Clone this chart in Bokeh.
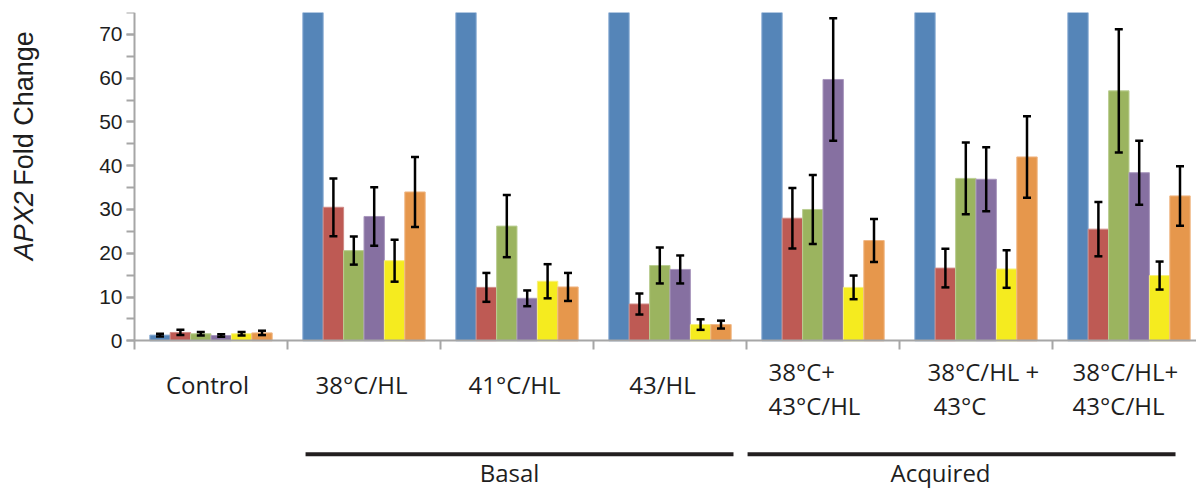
import numpy as np
from bokeh.plotting import figure
from bokeh.models import (Range1d, ColumnDataSource, Whisker, TeeHead,
                          SingleIntervalTicker, FixedTicker)
from bokeh.core.properties import value
from bokeh.embed import file_html
from bokeh.resources import INLINE

# ---------------- data ----------------
categories = ["Control", "38°C/HL", "41°C/HL", "43/HL",
              "38°C+\n43°C/HL", "38°C/HL +\n43°C", "38°C/HL+\n43°C/HL"]
groups = ["Basal", "Acquired"]
y_title_italic = "APX2"
y_title_rest = "Fold Change"

# blue series is off-scale (clipped at the top of the axis) except for Control
blue = [1.3, 150, 150, 150, 150, 150, 150]
blue_err = [0.3, None, None, None, None, None, None]
red = [1.9, 30.5, 12.2, 8.4, 28.0, 16.6, 25.5]
red_err = [0.6, 6.6, 3.3, 2.4, 6.9, 4.4, 6.2]
green = [1.6, 20.6, 26.2, 17.2, 30.0, 37.1, 57.1]
green_err = [0.4, 3.2, 7.1, 4.1, 7.9, 8.2, 14.1]
purple = [1.2, 28.4, 9.7, 16.3, 59.7, 36.9, 38.4]
purple_err = [0.3, 6.7, 1.8, 3.2, 14.0, 7.3, 7.3]
yellow = [1.6, 18.3, 13.6, 3.7, 12.2, 16.4, 14.9]
yellow_err = [0.4, 4.8, 3.9, 1.2, 2.7, 4.3, 3.2]
orange = [1.8, 34.0, 12.3, 3.7, 22.9, 42.0, 33.1]
orange_err = [0.5, 8.0, 3.2, 0.9, 4.9, 9.3, 6.8]

series = [blue, red, green, purple, yellow, orange]
errors = [blue_err, red_err, green_err, purple_err, yellow_err, orange_err]

# ---------------- style / layout ----------------
fills = ["#5585B8", "#BE5A54", "#9BB45F", "#8670A1", "#F5EB1F", "#E6974C"]
edges = ["#8FB0D6", "#CF8A86", "#BBCE92", "#A998BE", "#F8F07A", "#F0B785"]
axis_grey = "#A6A6A6"
text_col = "#1E1E1E"
label_font = value("Open Sans")

YMAX = 75
W, H = 1196, 488
X_LEFT_PX = 134          # y axis position inside the figure
PX_PER_CAT = 153.0
PX_PER_UNIT_Y = 4.3771
TOP_PX = 12
x_start = -X_LEFT_PX / PX_PER_CAT
x_end = (W - X_LEFT_PX) / PX_PER_CAT
y_start = YMAX - (H - TOP_PX) / PX_PER_UNIT_Y

p = figure(width=W, height=H, output_backend="svg", toolbar_location=None,
           x_range=Range1d(x_start, x_end), y_range=Range1d(y_start, YMAX),
           min_border_left=0, min_border_right=0, min_border_top=TOP_PX,
           min_border_bottom=0)
p.xgrid.visible = False
p.ygrid.visible = False
p.outline_line_color = None
p.background_fill_color = "white"
p.border_fill_color = "white"

n_cat = len(categories)
n_ser = len(series)
bw = 0.8 / n_ser
cat_idx = np.arange(n_cat)

wx, wu, wl = [], [], []
for j, (vals, errs) in enumerate(zip(series, errors)):
    xs = cat_idx + 0.1 + (j + 0.5) * bw
    p.vbar(x=xs, top=vals, width=bw, bottom=0, fill_color=fills[j],
           line_color=edges[j], line_width=1)
    for x, v, e in zip(xs, vals, errs):
        if e is not None and v <= YMAX:
            wx.append(x); wu.append(v + e); wl.append(v - e)

wsrc = ColumnDataSource(dict(x=wx, upper=wu, lower=wl))
p.add_layout(Whisker(source=wsrc, base="x", upper="upper", lower="lower",
                     dimension="height", line_color="black", line_width=2.5,
                     level="annotation",
                     upper_head=TeeHead(size=8, line_width=2.5, line_color="black"),
                     lower_head=TeeHead(size=8, line_width=2.5, line_color="black")))

# ---------------- axes (fixed at 0) ----------------
yax = p.yaxis[0]
yax.fixed_location = 0
yax.bounds = (0, YMAX)
yax.ticker = SingleIntervalTicker(interval=10, num_minor_ticks=2)
yax.axis_line_color = axis_grey
yax.axis_line_width = 2
yax.major_tick_line_color = axis_grey
yax.minor_tick_line_color = axis_grey
yax.major_tick_line_width = 2
yax.minor_tick_line_width = 2
yax.major_tick_out = 8
yax.major_tick_in = 0
yax.minor_tick_out = 8
yax.minor_tick_in = 0
yax.major_label_standoff = 4
yax.major_label_text_font = "Liberation Sans"
yax.major_label_text_font_size = "21px"
yax.major_label_text_color = text_col

xax = p.xaxis[0]
xax.fixed_location = 0
xax.bounds = (0, x_end)
xax.ticker = FixedTicker(ticks=list(range(n_cat)))
xax.major_label_overrides = {i: "" for i in range(n_cat + 1)}
xax.axis_line_color = axis_grey
xax.axis_line_width = 2
xax.major_tick_line_color = axis_grey
xax.major_tick_line_width = 2
xax.major_tick_out = 9
xax.major_tick_in = 0
xax.minor_tick_line_color = None

# ---------------- y-axis title (mixed italic / normal) ----------------
p.text(x=[-0.719], y=[18.4], text=[y_title_italic], angle=np.pi / 2,
       text_font=value("Liberation Sans"), text_font_style="italic",
       text_font_size="27px", text_align="left", text_baseline="middle",
       text_color=text_col)
p.text(x=[-0.719], y=[35.4], text=[y_title_rest], angle=np.pi / 2,
       text_font=value("Liberation Sans"), text_font_size="27px",
       text_align="left", text_baseline="middle", text_color=text_col)

# ---------------- category labels ----------------
single_x = {0: 0.477, 1: 1.484, 2: 2.484, 3: 3.451}
multi_left = {4: (4.144, 4.144), 5: (5.183, 5.222), 6: (6.131, 6.131)}
Y_SINGLE = -9.90
Y_LINES = [-6.93, -14.70]
sx, sy, st = [], [], []
mx, my, mt = [], [], []
for i, name in enumerate(categories):
    lines = name.split("\n")
    if len(lines) == 1:
        sx.append(single_x[i]); sy.append(Y_SINGLE); st.append(lines[0])
    else:
        for k, (ln, yy) in enumerate(zip(lines, Y_LINES)):
            mx.append(multi_left[i][k]); my.append(yy); mt.append(ln)
p.text(x=sx, y=sy, text=st, text_font=label_font, text_font_size="24px",
       text_align="center", text_baseline="alphabetic", text_color=text_col)
p.text(x=mx, y=my, text=mt, text_font=label_font, text_font_size="24px",
       text_align="left", text_baseline="alphabetic", text_color=text_col)

# ---------------- group brackets ----------------
group_x0 = [1.118, 4.007]
group_x1 = [3.915, 6.804]
group_text_x = [2.451, 5.268]
p.segment(x0=group_x0, y0=[-25.9] * 2, x1=group_x1, y1=[-25.9] * 2,
          line_width=4, line_color="#231F20")
p.text(x=group_text_x, y=[-30.0] * 2, text=groups, text_font=label_font,
       text_font_size="24px", text_align="center", text_baseline="alphabetic",
       text_color=text_col)

open("out.html", "w").write(file_html(p, INLINE))
